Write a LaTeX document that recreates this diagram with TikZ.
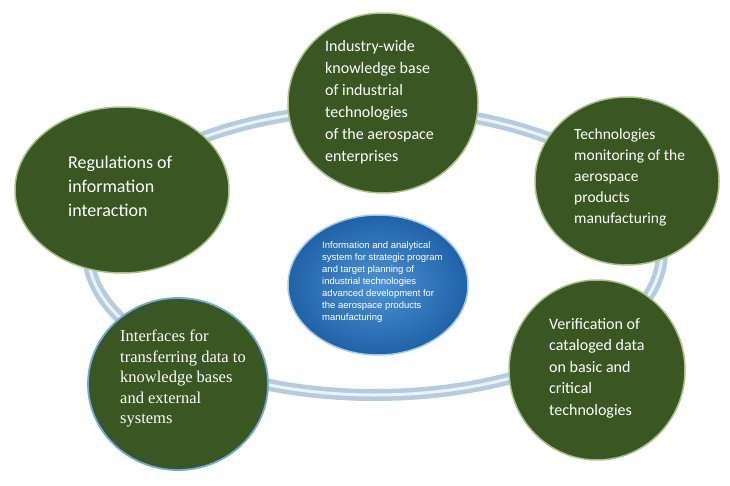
\documentclass[tikz,border=0pt]{standalone}
\usepackage{fontspec}
\setmainfont{Carlito}
\newfontfamily\serifb{Liberation Serif}
\newfontfamily\arialf{Liberation Sans}
\usetikzlibrary{shapes.geometric}
\definecolor{gdark}{HTML}{3A5622}
\definecolor{grim}{HTML}{A9C08E}
\definecolor{bdark}{HTML}{1F62A8}
\definecolor{blight}{HTML}{4C92D4}
\definecolor{ring}{HTML}{B4CBE0}
\begin{document}
\begin{tikzpicture}[x=1pt,y=-1pt,
 bub/.style={ellipse,fill=gdark,draw=grim,line width=1.5pt},
 txt/.style={text=white,align=left,anchor=north west,inner sep=0pt}]
\useasboundingbox (0,0) rectangle (730,486);
\draw[line width=12pt,ring] (375,252) ellipse [x radius=287,y radius=143];
\draw[line width=3pt,white!75!ring] (375,252) ellipse [x radius=287,y radius=143];
\node[bub,minimum width=190,minimum height=180] (top) at (383,103) {};
\node[bub,minimum width=214,minimum height=166] (left) at (122,190) {};
\node[bub,minimum width=184,minimum height=168] (right) at (627,181) {};
\node[bub,minimum width=180,minimum height=172,draw=blight!80,line width=1.8pt] (bl) at (178,384) {};
\node[bub,minimum width=176,minimum height=180] (br) at (597,370) {};
\node[ellipse,inner color=blight,outer color=bdark,draw=blight!50,line width=1.5pt,minimum width=180,minimum height=140] (c) at (378,285) {};
\node[txt,font=\fontsize{16}{22}\selectfont] (ttop) at (325,40) {Industry-wide\\knowledge base\\of industrial\\technologies\\of the aerospace\\enterprises};
\node[txt,font=\fontsize{18}{24}\selectfont] (tleft) at (68,156) {Regulations of\\information\\interaction};
\node[txt,font=\fontsize{15.5}{21}\selectfont] (tright) at (574,129) {Technologies\\monitoring of the\\aerospace\\products\\manufacturing};
\node[txt,font=\serifb\fontsize{16.5}{20.5}\selectfont] (tbl) at (120,330) {Interfaces for\\transferring data to\\knowledge bases\\and external\\systems};
\node[txt,font=\fontsize{16}{21.5}\selectfont] (tbr) at (549,318) {Verification of\\cataloged data\\on  basic and\\critical\\technologies};
\node[txt,font=\arialf\fontsize{9.5}{12}\selectfont] (tc) at (322,241) {Information and analytical\\system for strategic program\\and target planning of\\industrial technologies\\advanced development for\\the aerospace products\\manufacturing};
\end{tikzpicture}
\end{document}
